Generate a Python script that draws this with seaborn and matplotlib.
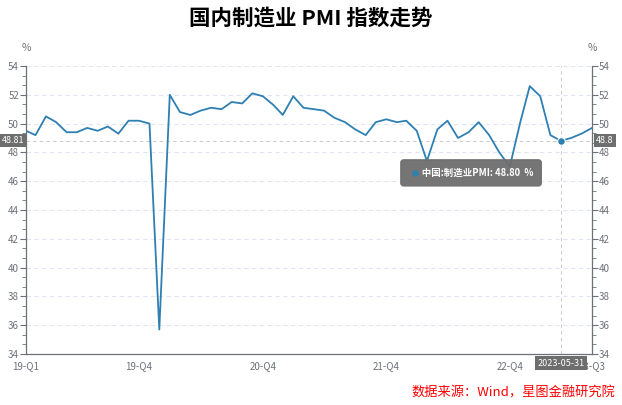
import numpy as np
import pandas as pd
import matplotlib
matplotlib.use("Agg")
import matplotlib.pyplot as plt
import matplotlib.dates as mdates
from matplotlib.ticker import MultipleLocator
from matplotlib.transforms import offset_copy
import seaborn as sns

# monthly China manufacturing PMI, 2019-01 .. 2023-08
months = pd.date_range("2019-01-31", "2023-08-31", freq="ME")
pmi = [49.5, 49.2, 50.5, 50.1, 49.4, 49.4, 49.7, 49.5, 49.8, 49.3, 50.2, 50.2,
       50.0, 35.7, 52.0, 50.8, 50.6, 50.9, 51.1, 51.0, 51.5, 51.4, 52.1, 51.9,
       51.3, 50.6, 51.9, 51.1, 51.0, 50.9, 50.4, 50.1, 49.6, 49.2, 50.1, 50.3,
       50.1, 50.2, 49.5, 47.4, 49.6, 50.2, 49.0, 49.4, 50.1, 49.2, 48.0, 47.0,
       50.1, 52.6, 51.9, 49.2, 48.8, 49.0, 49.3, 49.7]
df = pd.DataFrame({"date": months, "pmi": pmi})

title = "国内制造业 PMI 指数走势"
series_name = "中国:制造业PMI"
source = "数据来源：Wind，星图金融研究院"
hover_date = pd.Timestamp("2023-05-31")
cursor_left = "48.81"
cursor_right = "48.8"
cursor_y = 48.81

line_color = "#2e7fb2"
axis_color = "#6e7079"
grid_color = "#e0e6f1"
label_bg = "#6e6e6e"

sns.set_style("white")
plt.rcParams["font.family"] = ["Noto Sans CJK SC", "DejaVu Sans"]

fig = plt.figure(figsize=(6.22, 4.05), dpi=100)
ax = fig.add_axes([26 / 622, 1 - 354 / 405, 566 / 622, 288 / 405])

sns.lineplot(data=df, x="date", y="pmi", ax=ax, color=line_color, linewidth=1.3)

ax.set_xlim(months[0], months[-1])
ax.set_ylim(34, 54)
ax.set_xlabel("")
ax.set_ylabel("")

# grid
for y in np.arange(36, 55, 2):
    ax.axhline(y, color=grid_color, lw=0.8, ls=(0, (4, 3)), zorder=0)

ax.yaxis.set_major_locator(MultipleLocator(2))
ax.yaxis.set_minor_locator(MultipleLocator(2 / 3))

# x ticks: quarter ends, labels at start, Q4s and end
qends = pd.date_range("2019-03-31", "2023-08-31", freq="QE")
tick_dates = [months[0]] + list(qends) + [months[-1]]
labels = []
for d in tick_dates:
    if d == months[0] or d == months[-1] or d.month == 12:
        labels.append(f"{d.year % 100:02d}-Q{(d.month - 1) // 3 + 1}")
    else:
        labels.append("")
ax.set_xticks(mdates.date2num(tick_dates))
ax.set_xticklabels(labels)

for s in ["top", "right"]:
    ax.spines[s].set_visible(False)
for s in ["left", "bottom"]:
    ax.spines[s].set_color(axis_color)
    ax.spines[s].set_linewidth(0.9)

ax.tick_params(axis="both", which="major", direction="out", length=4,
               color=axis_color, labelcolor=axis_color, labelsize=7, pad=1)
ax.tick_params(axis="y", which="minor", direction="out", length=3, color=axis_color)

ax2 = ax.twinx()
ax2.set_ylim(34, 54)
ax2.yaxis.set_major_locator(MultipleLocator(2))
ax2.yaxis.set_minor_locator(MultipleLocator(2 / 3))
for s in ["top", "left", "bottom"]:
    ax2.spines[s].set_visible(False)
ax2.spines["right"].set_color(axis_color)
ax2.spines["right"].set_linewidth(0.9)
ax2.tick_params(axis="y", which="major", direction="out", length=4,
                color=axis_color, labelcolor=axis_color, labelsize=7, pad=1)
ax2.tick_params(axis="y", which="minor", direction="out", length=3, color=axis_color)

# units
ax.text(0, 1.045, "%", transform=ax.transAxes, ha="center", va="bottom",
        fontsize=7.5, color=axis_color)
ax.text(1, 1.045, "%", transform=ax.transAxes, ha="center", va="bottom",
        fontsize=7.5, color=axis_color)

# hover crosshair
hv = df.loc[df["date"] == hover_date, "pmi"].iloc[0]
ax.axvline(hover_date, color="#cccccc", lw=0.8, ls=(0, (3, 3)), zorder=1)
ax.axhline(cursor_y, color="#cccccc", lw=0.8, ls=(0, (3, 3)), zorder=1)
ax.scatter([hover_date], [hv], s=30, color=line_color, edgecolor="white",
           linewidth=0.8, zorder=5)

box = dict(boxstyle="square,pad=0.25", fc=label_bg, ec="none")
ax2.annotate(cursor_left, xy=(0, cursor_y), xycoords=("axes fraction", "data"),
             xytext=(-2, 0), textcoords="offset pixels", ha="right", va="center",
             fontsize=6.5, color="white", bbox=box, annotation_clip=False)
ax2.annotate(cursor_right, xy=(1, cursor_y), xycoords=("axes fraction", "data"),
             xytext=(4, 0), textcoords="offset pixels", ha="left", va="center",
             fontsize=6.5, color="white", bbox=box, annotation_clip=False)
ax2.annotate(hover_date.strftime("%Y-%m-%d"), xy=(hover_date, 0),
             xycoords=("data", "axes fraction"), xytext=(0, -9),
             textcoords="offset pixels", ha="center", va="center",
             fontsize=6.5, color="white", bbox=box, annotation_clip=False)

# tooltip
tip = dict(boxstyle="round,pad=0.85,rounding_size=0.3", fc="#6e6e6e", ec="#6e6e6e", alpha=0.95)
ax2.annotate(f"      {series_name}: {hv:.2f}  %", xy=(hover_date, hv),
             xytext=(-152, -32), textcoords="offset pixels", ha="left", va="center",
             fontsize=6.8, color="white", fontweight="bold", bbox=tip, zorder=10)
dot_tr = offset_copy(ax2.transData, fig=fig, x=-146, y=-32, units="dots")
ax2.scatter([hover_date], [hv], s=22, color=line_color, linewidth=0,
            transform=dot_tr, zorder=11, clip_on=False)

fig.text(0.5, 0.955, title, ha="center", va="center", fontsize=15.5,
         fontweight="bold", color="black")
fig.text(0.99, 0.03, source, ha="right", va="center", fontsize=9.5,
         color="red", style="italic")

fig.savefig("out.png", dpi=100)
